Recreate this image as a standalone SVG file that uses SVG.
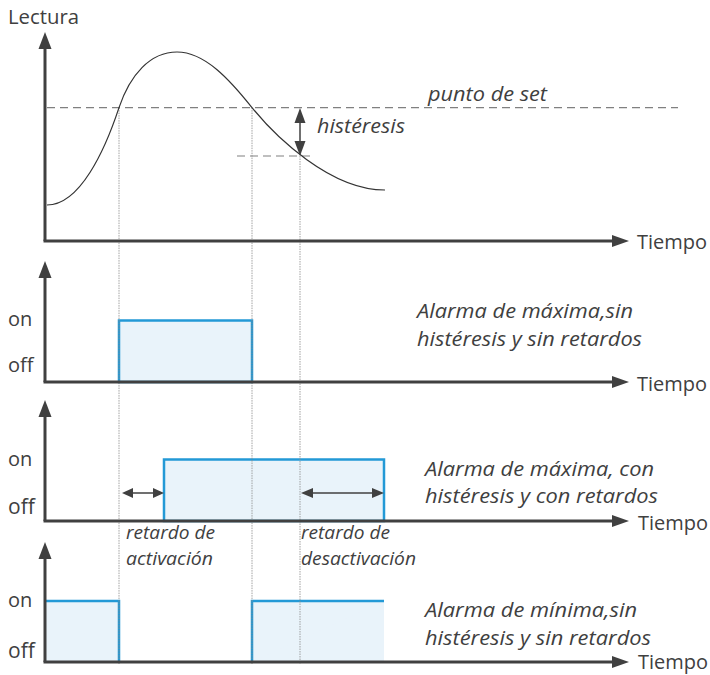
<svg xmlns="http://www.w3.org/2000/svg" width="710" height="675" viewBox="0 0 710 675">
<style>
text{font-family:"Open Sans","Liberation Sans",sans-serif;fill:#404040}
.lbl{font-size:20px}
.it{font-size:19.5px;font-style:italic}
.sm{font-size:17.5px;font-style:italic}
.axis{stroke:#404040;stroke-width:3;fill:none}
.head{fill:#404040}
.dash{stroke:#808080;stroke-width:1.2;stroke-dasharray:8 5;fill:none}
.dot{stroke:#8a8a8a;stroke-width:0.8;stroke-dasharray:1.5 1;fill:none}
.curve{stroke:#333;stroke-width:1.2;fill:none}
.sig{stroke:#2399d6;stroke-width:2.5;fill:#e9f3fa}
.thin{stroke:#404040;stroke-width:1.5;fill:none}
</style>
<g id="guides">
<line class="dash" x1="47" y1="107.6" x2="678" y2="107.6"/>
<line class="dash" x1="237" y1="156" x2="310" y2="156"/>
</g>
<g id="signals">
<rect class="sig" x="119" y="320.5" width="133" height="61.5"/>
<rect class="sig" x="164" y="459.5" width="220" height="61.5"/>
<path d="M45,601 H119 V662 H45 Z" fill="#e9f3fa" stroke="none"/>
<path d="M45,601 H119 V662" class="sig" fill="none"/>
<path d="M252,662 V601 H384 V662 Z" fill="#e9f3fa" stroke="none"/>
<path d="M252,662 V601 H384" class="sig" fill="none"/>
</g>
<g id="connectors">
<line class="dot" x1="119" y1="107.6" x2="119" y2="664"/>
<line class="dot" x1="252" y1="107.6" x2="252" y2="664"/>
<line class="dot" x1="300" y1="156" x2="300" y2="664"/>
</g>
<g id="curve">
<path class="curve" d="M47,205 C80,205 105,150 119,107.6 C130,75 150,52 177,52 C205,52 230,80 252,107.6 C275,136 330,190 385,190"/>
</g>
<g id="axes">
<line class="axis" x1="45" y1="45" x2="45" y2="241"/>
<line class="axis" x1="43.5" y1="241" x2="615" y2="241"/>
<polygon class="head" points="45,32 38.5,49 51.5,49"/>
<polygon class="head" points="629,241 612,235 612,247"/>
<line class="axis" x1="45" y1="274" x2="45" y2="382"/>
<line class="axis" x1="43.5" y1="382" x2="615" y2="382"/>
<polygon class="head" points="45,261 38.5,278 51.5,278"/>
<polygon class="head" points="629,382 612,376 612,388"/>
<line class="axis" x1="45" y1="413" x2="45" y2="521"/>
<line class="axis" x1="43.5" y1="521" x2="615" y2="521"/>
<polygon class="head" points="45,400 38.5,417 51.5,417"/>
<polygon class="head" points="629,521 612,515 612,527"/>
<line class="axis" x1="45" y1="555" x2="45" y2="662"/>
<line class="axis" x1="43.5" y1="662" x2="615" y2="662"/>
<polygon class="head" points="45,542 38.5,559 51.5,559"/>
<polygon class="head" points="629,662 612,656 612,668"/>
</g>
<g id="hysteresis-arrow">
<line class="thin" x1="300" y1="120" x2="300" y2="144"/>
<polygon class="head" points="300,108 294.5,123 305.5,123"/>
<polygon class="head" points="300,156 294.5,141 305.5,141"/>
</g>
<g id="delay-arrows">
<line class="thin" x1="130" y1="493" x2="155" y2="493"/>
<polygon class="head" points="122,493 133,488 133,498"/>
<polygon class="head" points="164,493 153,488 153,498"/>
<line class="thin" x1="310" y1="493" x2="375" y2="493"/>
<polygon class="head" points="301,493 313,488 313,498"/>
<polygon class="head" points="384,493 372,488 372,498"/>
</g>
<g id="labels">
<text class="lbl" x="8" y="24" textLength="71" lengthAdjust="spacingAndGlyphs">Lectura</text>
<text class="it" x="428" y="101" textLength="119" lengthAdjust="spacingAndGlyphs">punto de set</text>
<text class="it" x="317" y="133" textLength="88" lengthAdjust="spacingAndGlyphs">histéresis</text>
<text class="lbl" x="637" y="249" textLength="70" lengthAdjust="spacingAndGlyphs">Tiempo</text>
<text class="lbl" x="8" y="326">on</text>
<text class="lbl" x="8" y="372">off</text>
<text class="it" x="417" y="318" textLength="216" lengthAdjust="spacingAndGlyphs">Alarma de máxima,sin</text>
<text class="it" x="417" y="346" textLength="225" lengthAdjust="spacingAndGlyphs">histéresis y sin retardos</text>
<text class="lbl" x="637" y="391" textLength="70" lengthAdjust="spacingAndGlyphs">Tiempo</text>
<text class="lbl" x="8" y="466">on</text>
<text class="lbl" x="8" y="514" style="font-size:21px">off</text>
<text class="it" x="425" y="476" textLength="229" lengthAdjust="spacingAndGlyphs">Alarma de máxima, con</text>
<text class="it" x="425" y="503" textLength="233" lengthAdjust="spacingAndGlyphs">histéresis y con retardos</text>
<text class="lbl" x="638" y="530" textLength="70" lengthAdjust="spacingAndGlyphs">Tiempo</text>
<text class="sm" x="126" y="539" textLength="89" lengthAdjust="spacingAndGlyphs">retardo de</text>
<text class="sm" x="126" y="565" textLength="87" lengthAdjust="spacingAndGlyphs">activación</text>
<text class="sm" x="301" y="539" textLength="89" lengthAdjust="spacingAndGlyphs">retardo de</text>
<text class="sm" x="301" y="565" textLength="115" lengthAdjust="spacingAndGlyphs">desactivación</text>
<text class="lbl" x="8" y="607">on</text>
<text class="lbl" x="8" y="658" style="font-size:21px">off</text>
<text class="it" x="425" y="617" textLength="212" lengthAdjust="spacingAndGlyphs">Alarma de mínima,sin</text>
<text class="it" x="425" y="645" textLength="226" lengthAdjust="spacingAndGlyphs">histéresis y sin retardos</text>
<text class="lbl" x="638" y="669" textLength="70" lengthAdjust="spacingAndGlyphs">Tiempo</text>
</g>
</svg>
